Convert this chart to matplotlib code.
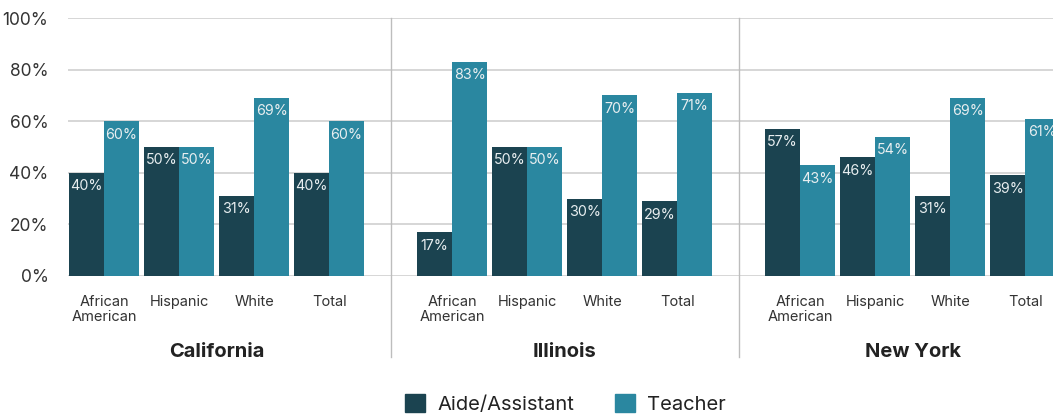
import matplotlib
matplotlib.use("Agg")
import matplotlib.pyplot as plt
from matplotlib.patches import Patch
from matplotlib.transforms import blended_transform_factory

plt.rcParams["font.family"] = ["Inter", "DejaVu Sans"]

states = ["California", "Illinois", "New York"]
groups = ["African\nAmerican", "Hispanic", "White", "Total"]
aide = [[40, 50, 31, 40], [17, 50, 30, 29], [57, 46, 31, 39]]
teacher = [[60, 50, 69, 60], [83, 50, 70, 71], [43, 54, 69, 61]]

DARK = "#1b4350"
TEAL = "#2a87a0"
GRID = "#cfcfcf"
TEXT = "#333333"

panel_step = 4.64
bar_w = 0.467

fig = plt.figure(figsize=(10.53, 4.15), dpi=100)
ax = fig.add_axes([68 / 1053, 1 - 276 / 415, 1 - 68 / 1053, 258 / 415])

xticks, xlabels = [], []
for p, state in enumerate(states):
    for g, name in enumerate(groups):
        x = p * panel_step + g
        xticks.append(x)
        xlabels.append(name)
        a, t = aide[p][g], teacher[p][g]
        ax.bar(x - bar_w / 2, a, bar_w, color=DARK, zorder=3)
        ax.bar(x + bar_w / 2, t, bar_w, color=TEAL, zorder=3)
        ax.text(x - bar_w / 2, a - 2.5, f"{a}%", ha="center", va="top",
                color="#e8eef0", fontsize=10.3, zorder=4)
        ax.text(x + bar_w / 2, t - 2.5, f"{t}%", ha="center", va="top",
                color="#e8eef0", fontsize=10.3, zorder=4)

trans = blended_transform_factory(ax.transData, ax.transAxes)
for p, state in enumerate(states):
    ax.text(p * panel_step + 1.5, -0.295, state, transform=trans, ha="center",
            va="center", fontsize=14.5, fontweight="bold", color="#222222")
    if p > 0:
        xs = p * panel_step - (panel_step - 3) / 2
        ax.plot([xs, xs], [1.0, -0.315], transform=trans, color="#bdbdbd",
                lw=1, clip_on=False, zorder=2)

ax.set_xlim(-0.48, 12.65)
ax.set_ylim(0, 100)
ax.set_yticks(range(0, 101, 20))
ax.set_yticklabels([f"{v}%" for v in range(0, 101, 20)])
ax.set_xticks(xticks)
ax.set_xticklabels(xlabels, linespacing=1.05)
ax.yaxis.grid(True, color=GRID, lw=1.2, zorder=0)
ax.tick_params(axis="both", length=0, colors=TEXT)
ax.tick_params(axis="y", labelsize=12.5, pad=14)
ax.tick_params(axis="x", labelsize=10.5, pad=14)
for s in ax.spines.values():
    s.set_visible(False)

handles = [Patch(color=DARK, label="Aide/Assistant"), Patch(color=TEAL, label="Teacher")]
fig.legend(handles=handles, loc="lower center", bbox_to_anchor=(0.537, -0.042), ncol=2,
           frameon=False, fontsize=14.5, handlelength=1.0, handleheight=1.0,
           handletextpad=0.6, columnspacing=2.0, labelcolor="#222222")

fig.savefig("out.png", dpi=100)
